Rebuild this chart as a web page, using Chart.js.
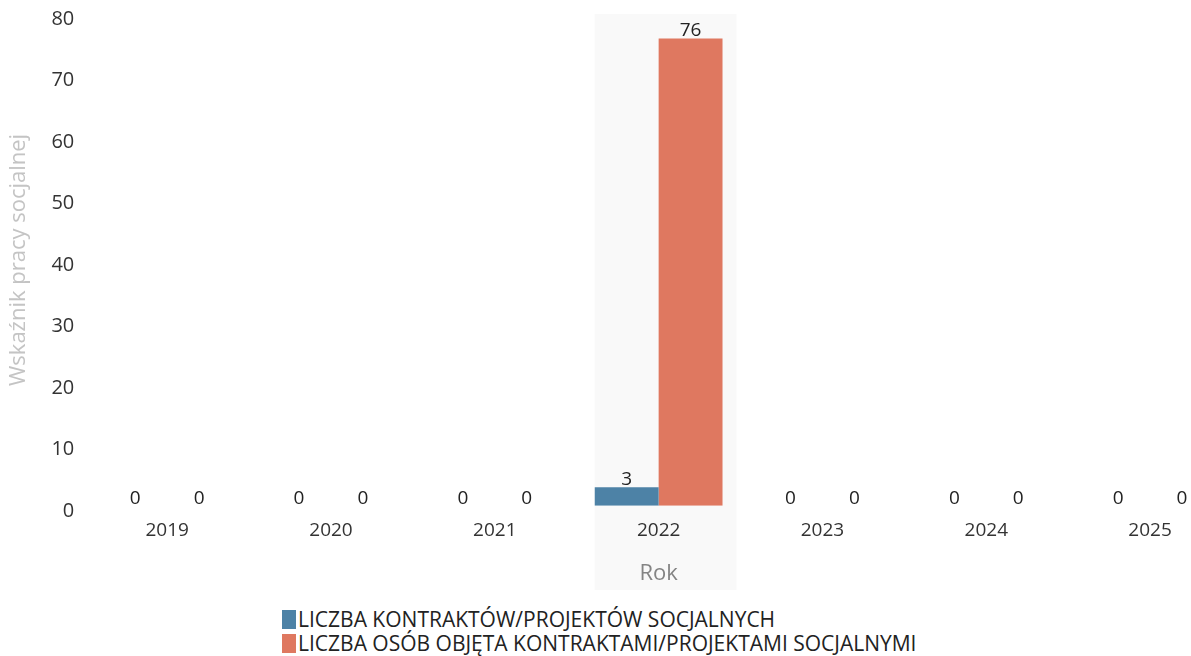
<!DOCTYPE html>
<html>
<head>
<meta charset="utf-8">
<script src="https://cdn.jsdelivr.net/npm/chart.js@4/dist/chart.umd.min.js"></script>
<style>
  html, body { margin: 0; padding: 0; background: #fff; overflow: hidden; }
  #wrap { position: relative; width: 1240px; height: 656px; }
  #legend { position: absolute; left: 282px; top: 607px; font-family: "Open Sans", sans-serif; font-size: 21px; color: #222; }
  #legend div { display: flex; align-items: center; height: 24px; }
  #legend span.box { display: inline-block; width: 14px; height: 19px; margin-right: 2px; }
</style>
</head>
<body>
<div id="wrap">
  <canvas id="chart" width="1240" height="596"></canvas>
  <div id="legend"></div>
</div>
<script>
// data
const years = ["2019", "2020", "2021", "2022", "2023", "2024", "2025"];
const contracts = [0, 0, 0, 3, 0, 0, 0];
const people = [0, 0, 0, 76, 0, 0, 0];
const series_names = [
  "LICZBA KONTRAKTÓW/PROJEKTÓW SOCJALNYCH",
  "LICZBA OSÓB OBJĘTA KONTRAKTAMI/PROJEKTAMI SOCJALNYMI",
];
const series_colors = ["#4d82a6", "#df7860"];
const y_ticks = [0, 10, 20, 30, 40, 50, 60, 70, 80];

const font_family = "'Open Sans', sans-serif";

// draws the value above each bar
const value_labels = {
  id: "value_labels",
  afterDatasetsDraw(chart) {
    const ctx = chart.ctx;
    ctx.save();
    ctx.font = "19px " + font_family;
    ctx.fillStyle = "#222";
    ctx.textAlign = "center";
    ctx.textBaseline = "bottom";
    chart.data.datasets.forEach((ds, i) => {
      chart.getDatasetMeta(i).data.forEach((bar, j) => {
        ctx.fillText(String(ds.data[j]), bar.x, bar.y + 2);
      });
    });
    ctx.restore();
  },
};

// faint hover column behind 2022
const hover_column = {
  id: "hover_column",
  beforeDatasetsDraw(chart) {
    const x = chart.scales.x;
    const cx = x.getPixelForValue(years.indexOf("2022"));
    const ctx = chart.ctx;
    ctx.save();
    ctx.fillStyle = "rgba(0,0,0,0.022)";
    ctx.fillRect(cx - 64, chart.chartArea.top, 142, chart.height - chart.chartArea.top - 6);
    ctx.restore();
  },
};

const ctx = document.getElementById("chart").getContext("2d");
const chart = new Chart(ctx, {
  type: "bar",
  data: {
    labels: years,
    datasets: [
      { label: series_names[0], data: contracts, backgroundColor: series_colors[0], borderWidth: 0 },
      { label: series_names[1], data: people, backgroundColor: series_colors[1], borderWidth: 0 },
    ],
  },
  options: {
    responsive: false,
    animation: false,
    categoryPercentage: 0.78,
    barPercentage: 1.0,
    layout: { padding: { left: 4, right: 8, top: 14, bottom: 9 } },
    plugins: {
      legend: { display: false },
      tooltip: { enabled: false },
    },
    scales: {
      x: {
        grid: { display: false },
        border: { display: false },
        ticks: { color: "#333", font: { family: font_family, size: 19 }, padding: 5 },
        title: { display: true, text: "Rok", color: "#888", font: { family: font_family, size: 22 }, padding: { top: 14, bottom: 0 } },
      },
      y: {
        min: 0,
        max: 80,
        afterBuildTicks: (axis) => { axis.ticks = y_ticks.map((v) => ({ value: v })); },
        afterFit: (axis) => { axis.paddingTop = 0; axis.paddingBottom = 0; },
        grid: { display: false, drawTicks: false },
        border: { display: false },
        ticks: { color: "#333", font: { family: font_family, size: 20 }, padding: 11, labelOffset: 5 },
        title: { display: true, text: "Wskaźnik pracy socjalnej", color: "#c4c4c4", font: { family: font_family, size: 22 }, padding: { top: 2, bottom: 8 } },
      },
    },
  },
  plugins: [hover_column, value_labels],
});

// legend as text, built from the datasets
const legend = document.getElementById("legend");
chart.data.datasets.forEach((ds) => {
  const row = document.createElement("div");
  const box = document.createElement("span");
  box.className = "box";
  box.style.background = ds.backgroundColor;
  row.appendChild(box);
  row.appendChild(document.createTextNode(ds.label));
  legend.appendChild(row);
});
</script>
</body>
</html>
